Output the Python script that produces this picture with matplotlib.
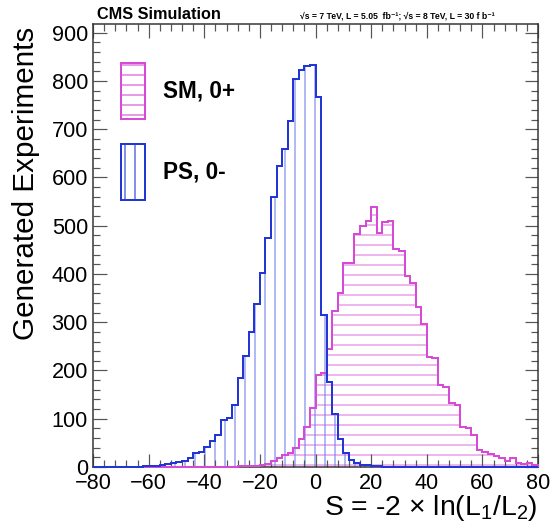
#!/usr/bin/env python3
import numpy as np
import matplotlib
matplotlib.use("Agg")
import matplotlib.pyplot as plt
from matplotlib.patches import Patch
from matplotlib.ticker import MultipleLocator

# bin edges of the test statistic histogram (2 units wide)
edges = np.arange(-80, 82, 2)

# SM, 0+ pseudo-experiments per bin
sm_counts = [0, 0, 0, 0, 0, 0, 0, 0, 0, 0,
             0, 0, 0, 0, 0, 0, 0, 0, 0, 0,
             0, 0, 0, 0, 1, 1, 2, 2, 3, 3,
             4, 6, 12, 18, 25, 30, 39, 58, 83, 123,
             190, 194, 244, 324, 360, 423, 423, 482, 500, 509,
             539, 485, 508, 510, 451, 448, 395, 382, 331, 297,
             228, 225, 170, 165, 132, 128, 83, 80, 66, 35,
             32, 26, 22, 18, 12, 18, 8, 7, 9, 5]

# PS, 0- pseudo-experiments per bin
ps_counts = [0, 0, 1, 0, 1, 1, 1, 1, 1, 2,
             2, 3, 4, 6, 8, 10, 13, 18, 30, 31,
             42, 54, 66, 97, 101, 128, 185, 230, 279, 337,
             403, 475, 560, 624, 658, 717, 803, 822, 831, 834,
             767, 315, 177, 110, 59, 30, 14, 8, 5, 4,
             3, 2, 1, 1, 1, 0, 0, 0, 0, 0,
             0, 0, 0, 0, 0, 0, 0, 0, 0, 0,
             0, 0, 0, 0, 0, 0, 0, 0, 0, 0]

labels = ["SM, 0+", "PS, 0-"]

DPI = 60


def px(p):
    # pixels -> points at this dpi
    return p * 72.0 / DPI


plt.rcParams['font.family'] = ['Liberation Sans', 'DejaVu Sans']
plt.rcParams['mathtext.fontset'] = 'custom'
plt.rcParams['mathtext.rm'] = 'Liberation Sans'
plt.rcParams['mathtext.default'] = 'regular'
plt.rcParams['hatch.linewidth'] = px(1.1)

pink = '#d64ad6'
pink_hatch = '#df7ce0'
blue = '#2236d8'
blue_hatch = '#7282ee'

fig = plt.figure(figsize=(553 / DPI, 531 / DPI), dpi=DPI)
ax = fig.add_axes([93 / 553, 64 / 531, 445 / 553, 443 / 531])

# hatched fills, then outlines on top
ax.stairs(sm_counts, edges, fill=True, facecolor='none', edgecolor=pink_hatch,
          hatch='-', linewidth=0, zorder=1)
ax.stairs(sm_counts, edges, color=pink, linewidth=px(2), zorder=3, clip_on=False)
ax.stairs(ps_counts, edges, fill=True, facecolor='none', edgecolor=blue_hatch,
          hatch='|', linewidth=0, zorder=1)
ax.stairs(ps_counts, edges, color=blue, linewidth=px(2), zorder=3, clip_on=False)

ax.set_xlim(-80, 80)
ax.set_ylim(0, 918)

ax.xaxis.set_major_locator(MultipleLocator(20))
ax.xaxis.set_minor_locator(MultipleLocator(4))
ax.yaxis.set_major_locator(MultipleLocator(100))
ax.yaxis.set_minor_locator(MultipleLocator(20))
ax.tick_params(which='both', direction='in', top=True, right=True,
               color='#555555', width=px(1.2))
ax.tick_params(which='major', length=px(13.5), labelsize=26)
ax.tick_params(which='minor', length=px(7))
ax.tick_params(axis='x', pad=px(6))
ax.tick_params(axis='y', pad=px(5))
for s in ax.spines.values():
    s.set_color('#333333')
    s.set_linewidth(px(1.5))

ax.set_xlabel('S = -2 × ln(L$_1$/L$_2$)', fontsize=34, loc='right')
ax.xaxis.set_label_coords(1.0, -0.058)
ax.set_ylabel('Generated Experiments', fontsize=35.5, loc='top')
ax.yaxis.set_label_coords(-0.12, 0.993)

handles = [Patch(facecolor='none', edgecolor=pink, hatch='-', linewidth=px(2)),
           Patch(facecolor='none', edgecolor=blue, hatch='|', linewidth=px(2))]
ax.legend(handles, labels, loc='upper left', bbox_to_anchor=(0.062, 0.911),
          frameon=False, borderpad=0, borderaxespad=0,
          prop={'weight': 'bold', 'size': 27},
          handlelength=1.08, handleheight=3.45, handletextpad=0.8,
          labelspacing=1.1)

fig.text(97 / 553, 1 - 19 / 531, 'CMS Simulation', fontsize=19.5,
         fontweight='bold', va='baseline', ha='left')
fig.text(300 / 553, 1 - 18 / 531,
         '√s = 7 TeV, L = 5.05  fb⁻¹; √s = 8 TeV, L = 30 f b⁻¹',
         fontsize=10.3, fontweight='bold', va='baseline', ha='left')

fig.savefig('out.png', dpi=DPI)
